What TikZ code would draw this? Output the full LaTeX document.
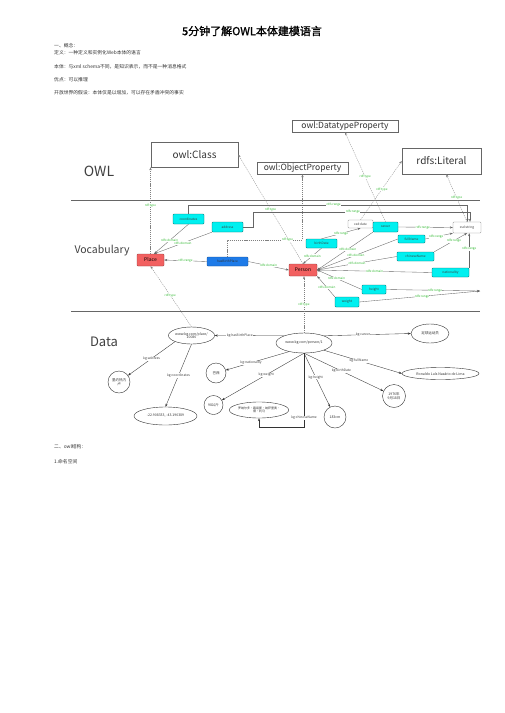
\documentclass[tikz,border=0pt]{standalone}
\usepackage{fontspec}
\setmainfont{Noto Sans CJK SC}
\newfontfamily\titlefont[FakeBold=1.5]{Noto Sans CJK SC}
\usetikzlibrary{arrows.meta,positioning,calc,shapes.geometric}
\definecolor{Salmon}{HTML}{F26060}
\definecolor{Aqua}{HTML}{00F0F0}
\definecolor{Azure}{HTML}{1E7BE8}
\definecolor{Leaf}{HTML}{2DB82D}
\definecolor{Ink}{HTML}{333333}
\newcommand{\fsz}[1]{\fontsize{#1}{#1}\selectfont}

\begin{document}
\begin{tikzpicture}[x=1pt,y=-1pt,
    txt/.style={anchor=west, inner sep=0pt, text=Ink, font=\fsz{4.8}},
    biglbl/.style={inner sep=0pt, text=black!75},
    termbox/.style={draw=black!60, fill=white, inner sep=0pt, line width=0.5pt, text=black!80},
    classbox/.style={draw=Salmon!60!black, fill=Salmon, rounded corners=0.8pt, inner sep=0pt, line width=0.4pt, font=\fsz{5}},
    propbox/.style={draw=Aqua!45!black, fill=Aqua, rounded corners=0.8pt, inner sep=0pt, line width=0.4pt, text=black!75, font=\fsz{3.2}},
    objbox/.style={draw=Azure!60!black, fill=Azure, rounded corners=0.8pt, inner sep=0pt, line width=0.4pt, text=black!80, font=\fsz{3.2}},
    typebox/.style={draw=black!45, fill=white, rounded corners=0.8pt, inner sep=0pt, line width=0.4pt, text=black!75, font=\fsz{3.2}},
    dnode/.style={ellipse, draw=black!80, fill=white, line width=0.4pt, inner sep=0pt, align=center, text=black!80, font=\fsz{3.5}},
    dcirc/.style={circle, draw=black!80, fill=white, line width=0.4pt, inner sep=0pt, align=center, text=black!80, font=\fsz{3.5}},
    lbl/.style={fill=white, inner sep=0.3pt, text=Leaf, font=\fsz{3}},
    dlbl/.style={fill=white, inner sep=0.3pt, text=black!75, font=\fsz{3.3}},
    rel/.style={draw=black!60, line width=0.35pt, -{Stealth[length=3pt,width=2.2pt]}},
    typeline/.style={draw=black!50, line width=0.3pt, dash pattern=on 1.2pt off 0.9pt, -{Stealth[length=3pt,width=2.2pt]}},
    dataline/.style={draw=black!80, line width=0.35pt, -{Stealth[length=3pt,width=2.2pt]}},
    sepline/.style={draw=black!60, line width=0.6pt}]

    \useasboundingbox[fill=white] (0,0) rectangle (504,713);

    % Page text
    \node[font=\titlefont\fsz{11}] (title) at (252,31) {5分钟了解OWL本体建模语言};
    \node[txt] (t1) at (54,46) {一、概念：};
    \node[txt] (t2) at (54,53) {定义：一种定义和实例化Web本体的语言};
    \node[txt] (t3) at (54,67) {本体：与xml schema不同，是知识表示，而不是一种消息格式};
    \node[txt] (t4) at (54,80) {优点：可以推理};
    \node[txt] (t5) at (54,93) {开放世界的假设：本体仅是以增加，可以存在矛盾冲突的事实};
    \node[txt] (t6) at (54,447) {二、owl结构：};
    \node[txt] (t7) at (54,462) {1.命名空间};

    % Layers
    \draw[sepline] (71,200) -- (480,200);
    \draw[sepline] (71,311) -- (480,311);
    \node[biglbl, font=\fsz{14}] (owl) at (99,171) {OWL};
    \node[biglbl, font=\fsz{10.5}] (voc) at (102,251) {Vocabulary};
    \node[biglbl, font=\fsz{13}] (data) at (104,342) {Data};

    % OWL terms
    \node[termbox, minimum width=87, minimum height=25, font=\fsz{10}] (cls) at (194.5,154.5) {owl:Class};
    \node[termbox, minimum width=106, minimum height=12, font=\fsz{8.5}] (dtp) at (345,126) {owl:DatatypeProperty};
    \node[termbox, minimum width=91, minimum height=12, font=\fsz{8.5}] (obp) at (302.5,168) {owl:ObjectProperty};
    \node[termbox, minimum width=79, minimum height=26, font=\fsz{10}] (lit) at (441.5,161) {rdfs:Literal};

    % Vocabulary
    \node[propbox, minimum width=31, minimum height=10] (coord) at (188.5,219) {coordinates};
    \node[propbox, minimum width=31, minimum height=10] (addr) at (227.5,227) {address};
    \node[classbox, minimum width=27, minimum height=12] (place) at (150.5,260) {Place};
    \node[objbox, minimum width=41, minimum height=9] (hbp) at (227.5,261.5) {hasBirthPlace};
    \node[classbox, minimum width=28, minimum height=12] (person) at (303,270) {Person};
    \node[propbox, minimum width=31, minimum height=9] (bdate) at (321.5,243.5) {birthDate};
    \node[typebox, minimum width=25, minimum height=8] (xdate) at (360.5,224) {xsd:date};
    \node[propbox, minimum width=25, minimum height=10] (career) at (385.5,227) {career};
    \node[propbox, minimum width=27, minimum height=8] (fname) at (411.5,239) {fullName};
    \node[propbox, minimum width=37, minimum height=9] (cname) at (415.5,256.5) {chineseName};
    \node[propbox, minimum width=37, minimum height=9] (nat) at (450.5,272.5) {nationality};
    \node[typebox, minimum width=28, minimum height=11] (xstr) at (467,227.5) {xsd:string};
    \node[propbox, minimum width=24, minimum height=9] (height) at (374,289.5) {height};
    \node[propbox, minimum width=24, minimum height=10] (weight) at (347,302) {weight};
    \coordinate (rng) at (480,291);
    \coordinate (hbpturn) at (302.5,240);
    \coordinate (akink) at (253,227);
    \coordinate (rtop1) at (467.5,205);
    \coordinate (rtop2) at (470,212);

    % Data
    \node[dnode, minimum width=45, minimum height=17] (dplace) at (191.5,335.5) {www.kg.com/place/\\10086};
    \node[dcirc, minimum size=22] (drio) at (119,382) {里约热内\\卢};
    \node[dnode, minimum width=63, minimum height=18] (dcoord) at (165.5,416) {-22.908333, -43.196389};
    \node[dnode, minimum width=56, minimum height=20] (dperson) at (304,343) {www.kg.com/person/1};
    \node[dnode, minimum width=38, minimum height=19] (dcareer) at (430,333.5) {足球运动员};
    \node[dnode, minimum width=77, minimum height=12] (dfull) at (440.5,373.5) {Ronaldo Luís Nazário de Lima};
    \node[dcirc, minimum size=23] (dbirth) at (394,396) {1976年\\9月18日};
    \node[dcirc, minimum size=22] (dheight) at (335,417) {183cm};
    \node[dnode, minimum width=48, minimum height=16, font=\fsz{3}] (dcname) at (259,410) {罗纳尔多·路易斯·纳萨里奥·\\德·利马};
    \node[dcirc, minimum size=19] (dweight) at (213.5,405) {98公斤};
    \node[dcirc, minimum size=20] (dnat) at (216,373) {巴西};

    % rdf:type
    \draw[typeline] (place.north) -- node[lbl, pos=0.56] {rdf:type} (place.north |- cls.south);
    \draw[typeline] (person.north) -- node[lbl] {rdf:type} (cls.east);
    \draw[typeline] (hbp.north) |- node[lbl, pos=0.9] {rdf:type} (hbpturn) -- (obp.south);
    \draw[typeline] (career.north) -- node[lbl] {rdf:type} (dtp.south);
    \draw[typeline] (xdate.north) -- node[lbl, pos=0.52] {rdf:type} (lit.west);
    \draw[typeline] (xstr.north) -- node[lbl] {rdf:type} (lit.-70);
    \draw[typeline] (dplace.north) -- node[lbl, pos=0.52] {rdf:type} (place.south);
    \draw[typeline] (dperson.north) -- node[lbl, pos=0.49] {rdf:type} (dperson.north |- person.south);

    % rdfs:domain / rdfs:range
    \draw[rel] (coord.south) -- node[lbl, pos=0.55] {rdfs:domain} (place.60);
    \draw[rel] (addr.south west) -- node[lbl] {rdfs:domain} (place.60);
    \draw[rel] (hbp.west) -- node[lbl] {rdfs:range} (place.east);
    \draw[rel] (hbp.east) -- node[lbl] {rdfs:domain} (person.west);
    \draw[rel] (bdate.south) -- node[lbl] {rdfs:domain} (person.north);
    \draw[rel] (bdate.north) -- node[lbl] {rdfs:range} (xdate.south);
    \draw[rel] (career.south west) -- node[lbl, pos=0.45] {rdfs:domain} (person.east);
    \draw[rel] (fname.west) -- node[lbl, pos=0.52] {rdfs:domain} (person.east);
    \draw[rel] (cname.west) -- node[lbl] {rdfs:domain} (person.east);
    \draw[rel] (nat.west) -- node[lbl] {rdfs:domain} (person.east);
    \draw[rel] (height.west) -- node[lbl, pos=0.57] {rdfs:domain} (person.east);
    \draw[rel] (weight.north west) -- node[lbl, pos=0.45] {rdfs:domain} (person.south east);
    \draw[rel] (career.east) -- node[lbl, pos=0.45] {rdfs:range} (xstr.west);
    \draw[rel] (fname.east) -- node[lbl, pos=0.4] {rdfs:range} (xstr.south west);
    \draw[rel] (cname.north east) -- node[lbl, pos=0.6] {rdfs:range} (xstr.south);
    \draw[rel] (nat.north east) -- node[lbl, pos=0.55] {rdfs:range} (nat.north east |- xstr.south);
    \draw[rel] (height.east) -- node[lbl, pos=0.52] {rdfs:range} (rng);
    \draw[rel] (weight.east) -- node[lbl, pos=0.52] {rdfs:range} (rng);
    \draw[rel] (coord.north) |- node[lbl, pos=0.76] {rdfs:range} (rtop1) -- (rtop1 |- xstr.north);
    \draw[rel] (addr.east) -- (akink) |- node[lbl, pos=0.73] {rdfs:range} (rtop2) -- (rtop2 |- xstr.north);

    % kg: statements
    \draw[dataline] (dplace.south west) -- node[dlbl] {kg:address} (drio);
    \draw[dataline] (dplace.south) -- node[dlbl] {kg:coordinates} (dcoord.north);
    \draw[dataline] (dperson.north west) -- node[dlbl, pos=0.64] {kg:hasBirthPlace} (dplace.east);
    \draw[dataline] (dperson.north east) -- node[dlbl, pos=0.45] {kg:career} (dcareer.west);
    \draw[dataline] (dperson.210) -- node[dlbl, pos=0.6] {kg:nationality} (dnat);
    \draw[dataline] (dperson.south) -- node[dlbl, pos=0.46] {kg:weight} (dweight);
    \draw[dataline] (dperson.south) -- node[dlbl, pos=0.45] {kg:height} (dheight);
    \draw[dataline] (dperson.south) -- node[dlbl, pos=0.47] {kg:birthDate} (dbirth);
    \draw[dataline] (dperson.-20) -- node[dlbl, pos=0.45] {kg:fullName} (dfull.west);
    \draw[dataline] (dperson.south) -- node[dlbl, pos=0.87] {kg:chineseName} ++(0,74) -| (dcname.south);
\end{tikzpicture}
\end{document}
